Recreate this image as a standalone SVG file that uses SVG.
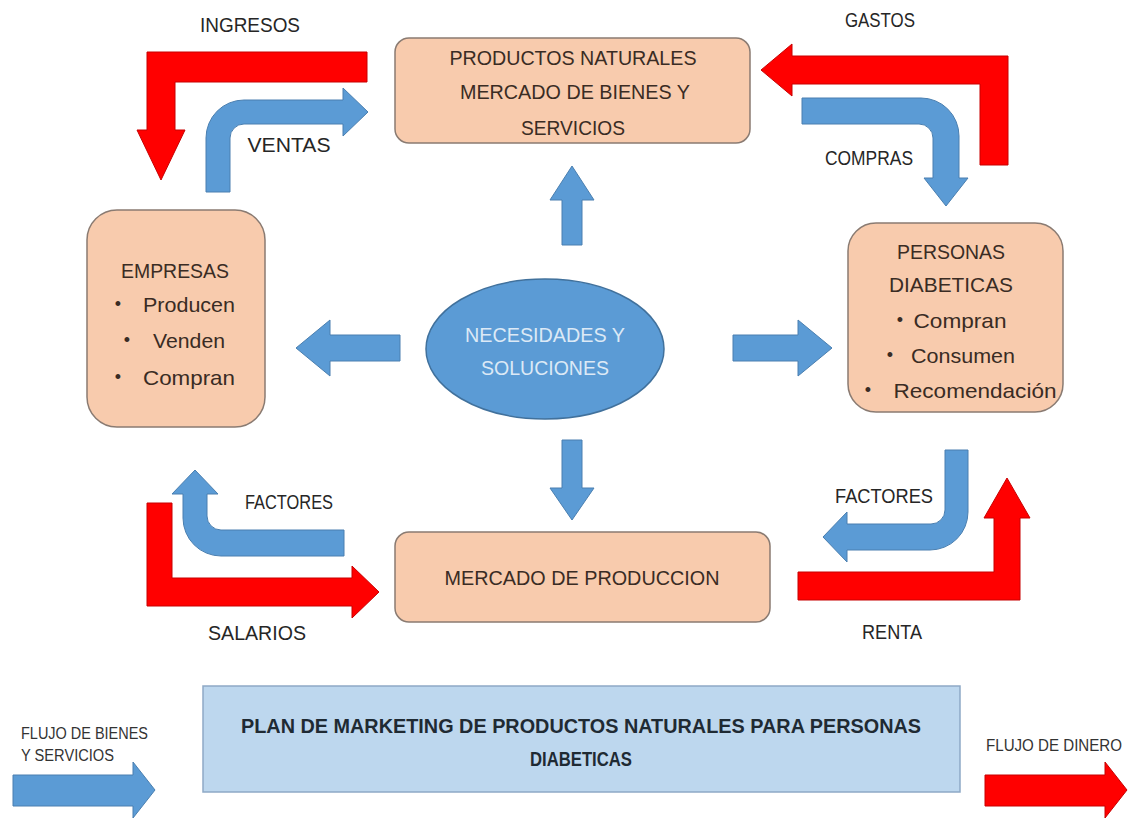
<svg xmlns="http://www.w3.org/2000/svg" width="1128" height="819" viewBox="0 0 1128 819">
<style>
.box{fill:#F8CBAD;stroke:#8a7b72;stroke-width:1.5}
.t{font-family:"Liberation Sans",Arial,sans-serif;font-size:21px;fill:#3a2c24;text-anchor:middle;dominant-baseline:central}
.lbl{font-family:"Liberation Sans",Arial,sans-serif;font-size:20px;fill:#262626;text-anchor:middle;dominant-baseline:central}
.sm{font-family:"Liberation Sans",Arial,sans-serif;font-size:16px;fill:#333;dominant-baseline:central}
.blue{fill:#5B9BD5;stroke:#4a7fb0;stroke-width:1}
.red{fill:#FF0000;stroke:#c80000;stroke-width:1}
.bul{font-family:"Liberation Sans",Arial,sans-serif;font-size:18px;fill:#3a2c24;text-anchor:middle;dominant-baseline:central}
</style>
<rect width="1128" height="819" fill="#ffffff"/>
<g id="connectors">
<path class="red" d="M367,52 L147,52 L147,130 L137,130 L161,180 L185,130 L175,130 L175,82 L367,82 Z"/>
<path class="blue" d="M206,192 L206,138 A38,38 0 0 1 244,100 L343,100 L343,88 L368,112 L343,136 L343,124 L244,124 A14,14 0 0 0 230,138 L230,192 Z"/>
<path class="red" d="M761,70 L792,44 L792,56 L1008,56 L1008,165 L980,165 L980,84 L792,84 L792,96 Z"/>
<path class="blue" d="M802,98 L921,98 A38,38 0 0 1 959,136 L959,178 L968,178 L946,206 L924,178 L933,178 L933,138 A14,14 0 0 0 919,124 L802,124 Z"/>
<path class="blue" d="M344,530 L221,530 A14,14 0 0 1 207,516 L207,494 L218,494 L195,470 L172,494 L183,494 L183,518 A38,38 0 0 0 221,556 L344,556 Z"/>
<path class="red" d="M147,503 L172,503 L172,578 L352,578 L352,566 L379,592 L352,618 L352,606 L147,606 Z"/>
<path class="blue" d="M945,450 L968,450 L968,512 A38,38 0 0 1 930,550 L847,550 L847,562 L823,537 L847,512 L847,524 L931,524 A14,14 0 0 0 945,510 Z"/>
<path class="red" d="M798,572 L994,572 L994,518 L984,518 L1007,478 L1030,518 L1020,518 L1020,600 L798,600 Z"/>
<path class="blue" d="M562,245 L562,200 L550,200 L572,166 L594,200 L582,200 L582,245 Z"/>
<path class="blue" d="M562,440 L582,440 L582,488 L594,488 L572,520 L550,488 L562,488 Z"/>
<path class="blue" d="M400,335 L330,335 L330,320 L296,348 L330,376 L330,361 L400,361 Z"/>
<path class="blue" d="M733,335 L798,335 L798,320 L832,348 L798,376 L798,361 L733,361 Z"/>
<path class="blue" d="M13,775 L133,775 L133,762 L155,790 L133,818 L133,806 L13,806 Z"/>
<path class="red" d="M985,775 L1105,775 L1105,762 L1127,790 L1105,818 L1105,806 L985,806 Z"/>
</g>
<g id="labels">
<text class="lbl" x="250" y="25" textLength="100" lengthAdjust="spacingAndGlyphs">INGRESOS</text>
<text class="lbl" x="289" y="145" textLength="83" lengthAdjust="spacingAndGlyphs">VENTAS</text>
<text class="lbl" x="880" y="20" textLength="70" lengthAdjust="spacingAndGlyphs">GASTOS</text>
<text class="lbl" x="869" y="158" textLength="88" lengthAdjust="spacingAndGlyphs">COMPRAS</text>
<text class="lbl" x="289" y="502" textLength="88" lengthAdjust="spacingAndGlyphs">FACTORES</text>
<text class="lbl" x="257" y="633" textLength="98" lengthAdjust="spacingAndGlyphs">SALARIOS</text>
<text class="lbl" x="884" y="496" textLength="98" lengthAdjust="spacingAndGlyphs">FACTORES</text>
<text class="lbl" x="892" y="632" textLength="60" lengthAdjust="spacingAndGlyphs">RENTA</text>
<text class="sm" x="21" y="733" textLength="127" lengthAdjust="spacingAndGlyphs">FLUJO DE BIENES</text>
<text class="sm" x="21" y="755" textLength="93" lengthAdjust="spacingAndGlyphs">Y SERVICIOS</text>
<text class="sm" x="986" y="745" textLength="136" lengthAdjust="spacingAndGlyphs">FLUJO DE DINERO</text>
</g>
<g id="node-productos">
<rect class="box" x="395" y="38" width="355" height="105" rx="14"/>
<text class="t" x="573" y="57" textLength="247" lengthAdjust="spacingAndGlyphs">PRODUCTOS NATURALES</text>
<text class="t" x="575" y="91" textLength="230" lengthAdjust="spacingAndGlyphs">MERCADO DE BIENES Y</text>
<text class="t" x="573" y="127" textLength="104" lengthAdjust="spacingAndGlyphs">SERVICIOS</text>
</g>
<g id="node-empresas">
<rect class="box" x="87" y="210" width="178" height="217" rx="30"/>
<text class="t" x="175" y="270" textLength="108" lengthAdjust="spacingAndGlyphs">EMPRESAS</text>
<text class="bul" x="118" y="304">•</text>
<text class="t" x="189" y="304" textLength="92" lengthAdjust="spacingAndGlyphs">Producen</text>
<text class="bul" x="127" y="340">•</text>
<text class="t" x="189" y="340" textLength="72" lengthAdjust="spacingAndGlyphs">Venden</text>
<text class="bul" x="118" y="377">•</text>
<text class="t" x="189" y="377" textLength="92" lengthAdjust="spacingAndGlyphs">Compran</text>
</g>
<g id="node-personas">
<rect class="box" x="848" y="223" width="215" height="189" rx="28"/>
<text class="t" x="951" y="251" textLength="108" lengthAdjust="spacingAndGlyphs">PERSONAS</text>
<text class="t" x="951" y="284" textLength="124" lengthAdjust="spacingAndGlyphs">DIABETICAS</text>
<text class="bul" x="900" y="320">•</text>
<text class="t" x="960" y="320" textLength="93" lengthAdjust="spacingAndGlyphs">Compran</text>
<text class="bul" x="890" y="355">•</text>
<text class="t" x="963" y="355" textLength="104" lengthAdjust="spacingAndGlyphs">Consumen</text>
<text class="bul" x="868" y="390">•</text>
<text class="t" x="975" y="390" textLength="163" lengthAdjust="spacingAndGlyphs">Recomendación</text>
</g>
<g id="node-necesidades">
<ellipse cx="545" cy="349" rx="119" ry="70" fill="#5B9BD5" stroke="#41719C" stroke-width="1.5"/>
<text class="t" x="545" y="334" style="fill:#dce9f6" textLength="160" lengthAdjust="spacingAndGlyphs">NECESIDADES Y</text>
<text class="t" x="545" y="367" style="fill:#dce9f6" textLength="128" lengthAdjust="spacingAndGlyphs">SOLUCIONES</text>
</g>
<g id="node-mercado-produccion">
<rect class="box" x="395" y="532" width="375" height="90" rx="14"/>
<text class="t" x="582" y="577" textLength="275" lengthAdjust="spacingAndGlyphs">MERCADO DE PRODUCCION</text>
</g>
<g id="node-plan">
<rect x="203" y="686" width="757" height="106" fill="#BDD7EE" stroke="#8ea9c6" stroke-width="1.5"/>
<text class="t" x="581" y="726" style="font-weight:bold;font-size:20px;fill:#1f2a33" textLength="680" lengthAdjust="spacingAndGlyphs">PLAN DE MARKETING DE PRODUCTOS NATURALES PARA PERSONAS</text>
<text class="t" x="581" y="759" style="font-weight:bold;font-size:20px;fill:#1f2a33" textLength="102" lengthAdjust="spacingAndGlyphs">DIABETICAS</text>
</g>
</svg>
